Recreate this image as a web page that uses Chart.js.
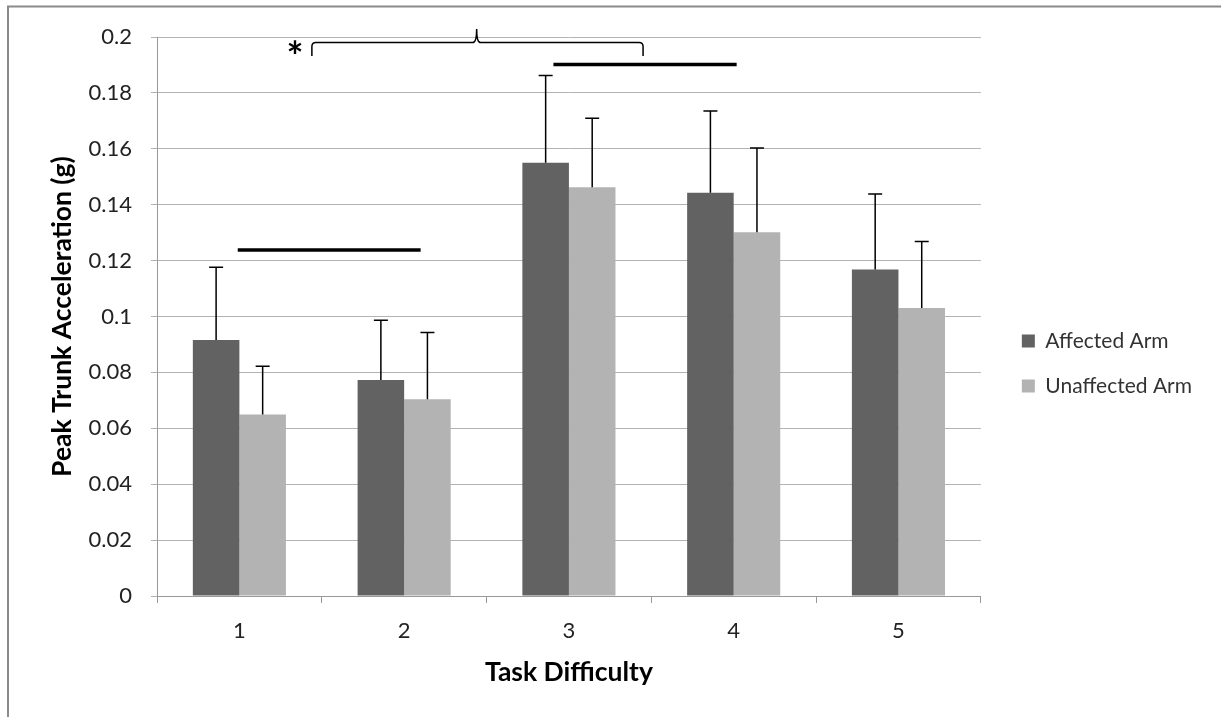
<!DOCTYPE html>
<html>
<head>
<meta charset="utf-8">
<script src="https://cdn.jsdelivr.net/npm/chart.js@4"></script>
<style>
  body { margin: 0; background: #fff; }
  canvas { display: block; }
</style>
</head>
<body>
<canvas id="chart" width="1221" height="717"></canvas>
<script>
const categories = ['1', '2', '3', '4', '5'];
const affected = [0.0916, 0.0773, 0.155, 0.1443, 0.1168];
const unaffected = [0.0649, 0.0704, 0.1462, 0.1301, 0.1030];
const affectedErr = [0.0260, 0.0214, 0.0312, 0.0292, 0.0270];
const unaffectedErr = [0.0173, 0.0239, 0.0247, 0.0302, 0.0238];
const yTickLabels = ['0', '0.02', '0.04', '0.06', '0.08', '0.1', '0.12', '0.14', '0.16', '0.18', '0.2'];

// significance marks, in category index / data units
const sigBars = [
  { from: -0.01, to: 1.10, y: 0.1238 },
  { from: 1.906, to: 3.018, y: 0.1902 }
];
const sigBrace = { from: 0.44, mid: 1.44, to: 2.45, y: 0.198, yEnd: 0.1932, yPeak: 0.2029, starX: 0.338, starY: 0.196 };

const errors = [affectedErr, unaffectedErr];

const framePlugin = {
  id: 'frame',
  beforeDraw(chart) {
    const ctx = chart.ctx;
    ctx.save();
    ctx.fillStyle = '#fff';
    ctx.fillRect(0, 0, chart.width, chart.height);
    ctx.strokeStyle = '#8a8a8a';
    ctx.lineWidth = 2;
    ctx.strokeRect(8, 6.5, chart.width + 20, chart.height + 20);
    ctx.restore();
  }
};

const errorBarPlugin = {
  id: 'errorBars',
  afterDatasetsDraw(chart) {
    const ctx = chart.ctx;
    const y = chart.scales.y;
    ctx.save();
    ctx.strokeStyle = '#000';
    ctx.lineWidth = 1.5;
    chart.data.datasets.forEach((ds, d) => {
      chart.getDatasetMeta(d).data.forEach((bar, i) => {
        const top = y.getPixelForValue(ds.data[i] + errors[d][i]);
        ctx.beginPath();
        ctx.moveTo(bar.x, bar.y);
        ctx.lineTo(bar.x, top);
        ctx.moveTo(bar.x - 7, top);
        ctx.lineTo(bar.x + 7, top);
        ctx.stroke();
      });
    });
    ctx.restore();
  }
};

const sigPlugin = {
  id: 'sig',
  afterDraw(chart) {
    const ctx = chart.ctx;
    const x = chart.scales.x, y = chart.scales.y;
    ctx.save();
    ctx.strokeStyle = '#000';
    ctx.lineWidth = 3.5;
    sigBars.forEach(b => {
      const py = y.getPixelForValue(b.y);
      ctx.beginPath();
      ctx.moveTo(x.getPixelForValue(b.from), py);
      ctx.lineTo(x.getPixelForValue(b.to), py);
      ctx.stroke();
    });

    const x0 = x.getPixelForValue(sigBrace.from);
    const xm = x.getPixelForValue(sigBrace.mid);
    const x1 = x.getPixelForValue(sigBrace.to);
    const yt = y.getPixelForValue(sigBrace.y);
    const ye = y.getPixelForValue(sigBrace.yEnd);
    const yp = y.getPixelForValue(sigBrace.yPeak);
    const r = 4;
    ctx.lineWidth = 1.5;
    ctx.beginPath();
    ctx.moveTo(x0, ye);
    ctx.lineTo(x0, yt + r);
    ctx.quadraticCurveTo(x0, yt, x0 + r, yt);
    ctx.lineTo(xm - r, yt);
    ctx.quadraticCurveTo(xm, yt, xm, yp);
    ctx.quadraticCurveTo(xm, yt, xm + r, yt);
    ctx.lineTo(x1 - r, yt);
    ctx.quadraticCurveTo(x1, yt, x1, yt + r);
    ctx.lineTo(x1, ye);
    ctx.stroke();

    const size = 40;
    ctx.fillStyle = '#000';
    ctx.font = 'bold ' + size + 'px Lato';
    ctx.textAlign = 'center';
    ctx.textBaseline = 'alphabetic';
    ctx.fillText('*', x.getPixelForValue(sigBrace.starX), y.getPixelForValue(sigBrace.starY) + size * 0.56);
    ctx.restore();
  }
};

new Chart(document.getElementById('chart'), {
  type: 'bar',
  data: {
    labels: categories,
    datasets: [
      { label: 'Affected Arm', data: affected, backgroundColor: '#626262' },
      { label: 'Unaffected Arm', data: unaffected, backgroundColor: '#b3b3b3' }
    ]
  },
  options: {
    responsive: false,
    animation: false,
    devicePixelRatio: 1,
    categoryPercentage: 0.565,
    barPercentage: 1,
    layout: { padding: { left: 10, top: 37, right: 19, bottom: 27 } },
    plugins: {
      tooltip: { enabled: false },
      legend: {
        position: 'right',
        align: 'center',
        maxWidth: 300,
        labels: {
          boxWidth: 13,
          boxHeight: 13,
          padding: 24,
          color: '#333',
          font: { family: 'Lato', size: 21 }
        }
      }
    },
    scales: {
      x: {
        grid: { drawOnChartArea: false, tickLength: 7, color: '#999' },
        border: { color: '#999' },
        ticks: { color: '#222', padding: 15, font: { family: 'Lato', size: 22 } },
        title: {
          display: true,
          text: 'Task Difficulty',
          color: '#000',
          padding: { top: 0, bottom: 2 },
          font: { family: 'Lato', size: 26.5, weight: 'bold' }
        },
        afterFit(s) { s.height = 94; }
      },
      y: {
        min: 0,
        max: 0.2,
        ticks: {
          stepSize: 0.02,
          color: '#222',
          padding: 19,
          font: { family: 'Lato', size: 22 },
          callback: (v, i) => yTickLabels[i]
        },
        grid: { color: '#b3b3b3', tickLength: 6 },
        border: { color: '#999' },
        title: {
          display: true,
          text: 'Peak Trunk Acceleration (g)',
          color: '#000',
          padding: { top: 37, bottom: 0 },
          font: { family: 'Lato', size: 26.5, weight: 'bold' }
        },
        afterFit(s) { s.width = 147; }
      },
      gap: {
        type: 'linear',
        position: 'right',
        display: true,
        grid: { display: false },
        ticks: { display: false },
        border: { display: false },
        afterFit(s) { s.width = 17; }
      }
    }
  },
  plugins: [framePlugin, errorBarPlugin, sigPlugin]
});
</script>
</body>
</html>
